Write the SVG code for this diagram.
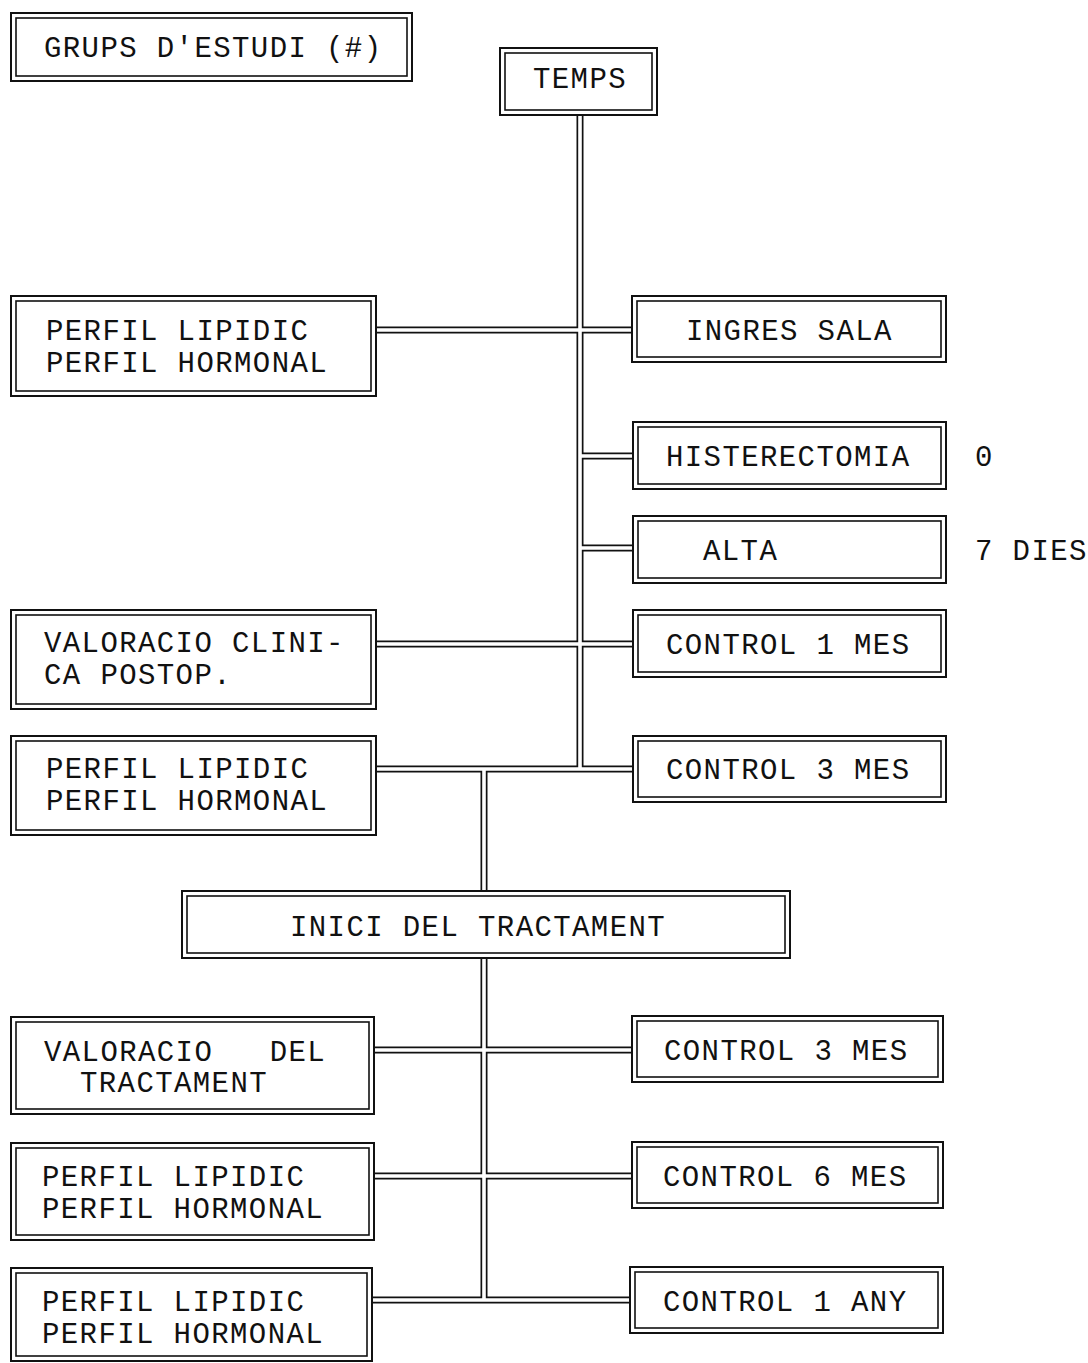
<svg xmlns="http://www.w3.org/2000/svg" xmlns:xlink="http://www.w3.org/1999/xlink" width="1088" height="1363" viewBox="0 0 1088 1363">
<style>
.bg{fill:#fff}
.o{fill:#fff;stroke:#111;stroke-width:2}
.i{fill:none;stroke:#111;stroke-width:1.6}
.ck{fill:none;stroke:#111;stroke-width:7}
.cw{fill:none;stroke:#fff;stroke-width:3.6}
text{font-family:"Courier New","Liberation Mono","DejaVu Sans Mono",monospace;font-size:29px;letter-spacing:1.4px;fill:#111;white-space:pre}
</style>
<defs>
<path id="wires" d="M580,115 V769 M376,330 H632 M580,456 H633 M580,548 H633 M376,644 H633 M376,769 H633 M484,769 V891 M484,958 V1300 M374,1050 H632 M374,1176 H632 M372,1300 H630"/>
</defs>
<rect class="bg" x="0" y="0" width="1088" height="1363"/>
<g id="connectors">
<use xlink:href="#wires" class="ck"/>
<use xlink:href="#wires" class="cw"/>
</g>
<g id="grups"><rect class="o" x="11" y="13" width="401" height="68"/><rect class="i" x="16" y="18" width="391" height="58"/><text x="44" y="57">GRUPS D'ESTUDI (#)</text></g>
<g id="temps"><rect class="o" x="500" y="48" width="157" height="67"/><rect class="i" x="505" y="53" width="147" height="57"/><text x="533" y="88">TEMPS</text></g>
<g id="perfil1"><rect class="o" x="11" y="296" width="365" height="100"/><rect class="i" x="16" y="301" width="355" height="90"/><text x="46" y="340">PERFIL LIPIDIC</text><text x="46" y="372">PERFIL HORMONAL</text></g>
<g id="ingres"><rect class="o" x="632" y="296" width="314" height="66"/><rect class="i" x="637" y="301" width="304" height="56"/><text x="686" y="340">INGRES SALA</text></g>
<g id="histerectomia"><rect class="o" x="633" y="422" width="313" height="67"/><rect class="i" x="638" y="427" width="303" height="57"/><text x="666" y="466">HISTERECTOMIA</text></g>
<g id="label0"><text x="975" y="466">0</text></g>
<g id="alta"><rect class="o" x="633" y="516" width="313" height="67"/><rect class="i" x="638" y="521" width="303" height="57"/><text x="703" y="560">ALTA</text></g>
<g id="label7"><text x="975" y="560">7 DIES</text></g>
<g id="valclin"><rect class="o" x="11" y="610" width="365" height="99"/><rect class="i" x="16" y="615" width="355" height="89"/><text x="44" y="652">VALORACIO CLINI-</text><text x="44" y="684">CA POSTOP.</text></g>
<g id="control1mes"><rect class="o" x="633" y="610" width="313" height="67"/><rect class="i" x="638" y="615" width="303" height="57"/><text x="666" y="654">CONTROL 1 MES</text></g>
<g id="perfil2"><rect class="o" x="11" y="736" width="365" height="99"/><rect class="i" x="16" y="741" width="355" height="89"/><text x="46" y="778">PERFIL LIPIDIC</text><text x="46" y="810">PERFIL HORMONAL</text></g>
<g id="control3mes"><rect class="o" x="633" y="736" width="313" height="66"/><rect class="i" x="638" y="741" width="303" height="56"/><text x="666" y="779">CONTROL 3 MES</text></g>
<g id="inici"><rect class="o" x="182" y="891" width="608" height="67"/><rect class="i" x="187" y="896" width="598" height="57"/><text x="290" y="936">INICI DEL TRACTAMENT</text></g>
<g id="valtract"><rect class="o" x="11" y="1017" width="363" height="97"/><rect class="i" x="16" y="1022" width="353" height="87"/><text x="44" y="1061">VALORACIO   DEL</text><text x="80" y="1092">TRACTAMENT</text></g>
<g id="control3mes2"><rect class="o" x="632" y="1016" width="311" height="66"/><rect class="i" x="637" y="1021" width="301" height="56"/><text x="664" y="1060">CONTROL 3 MES</text></g>
<g id="perfil3"><rect class="o" x="11" y="1143" width="363" height="97"/><rect class="i" x="16" y="1148" width="353" height="87"/><text x="42" y="1186">PERFIL LIPIDIC</text><text x="42" y="1218">PERFIL HORMONAL</text></g>
<g id="control6mes"><rect class="o" x="632" y="1142" width="311" height="66"/><rect class="i" x="637" y="1147" width="301" height="56"/><text x="663" y="1186">CONTROL 6 MES</text></g>
<g id="perfil4"><rect class="o" x="11" y="1268" width="361" height="93"/><rect class="i" x="16" y="1273" width="351" height="83"/><text x="42" y="1311">PERFIL LIPIDIC</text><text x="42" y="1343">PERFIL HORMONAL</text></g>
<g id="control1any"><rect class="o" x="630" y="1267" width="313" height="66"/><rect class="i" x="635" y="1272" width="303" height="56"/><text x="663" y="1311">CONTROL 1 ANY</text></g>
</svg>
